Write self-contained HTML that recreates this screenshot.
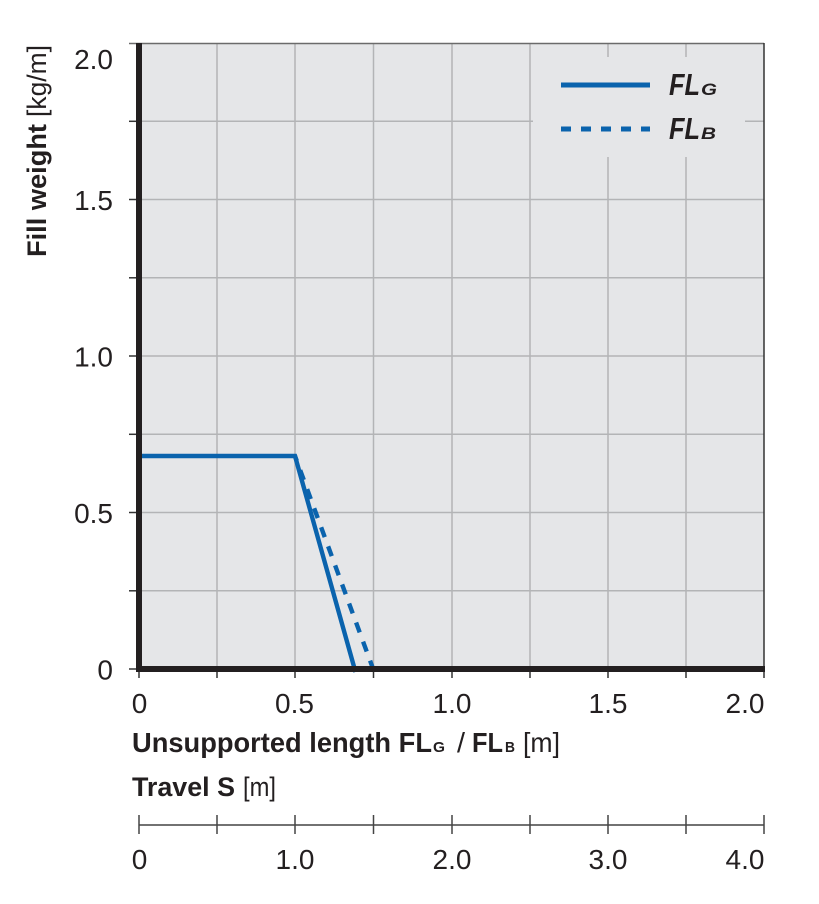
<!DOCTYPE html>
<html>
<head>
<meta charset="utf-8">
<style>
  html, body { margin:0; padding:0; background:#ffffff; }
  svg { display:block; }
  text { font-family:"Liberation Sans", Arial, sans-serif; fill:#231f20; }
</style>
</head>
<body>
<svg width="819" height="904" viewBox="0 0 819 904" xmlns="http://www.w3.org/2000/svg">
  <rect x="0" y="0" width="819" height="904" fill="#ffffff"/>
  <!-- plot background -->
  <rect x="139" y="43" width="625" height="626" fill="#e5e6e8"/>

  <!-- grid -->
  <g stroke="#b3b4b6" stroke-width="1.5">
    <line x1="217" y1="43" x2="217" y2="669"/>
    <line x1="295" y1="43" x2="295" y2="669"/>
    <line x1="373.5" y1="43" x2="373.5" y2="669"/>
    <line x1="452" y1="43" x2="452" y2="669"/>
    <line x1="530" y1="43" x2="530" y2="669"/>
    <line x1="608" y1="43" x2="608" y2="669"/>
    <line x1="686" y1="43" x2="686" y2="669"/>
    <line x1="139" y1="121.3" x2="764" y2="121.3"/>
    <line x1="139" y1="199.5" x2="764" y2="199.5"/>
    <line x1="139" y1="277.8" x2="764" y2="277.8"/>
    <line x1="139" y1="356" x2="764" y2="356"/>
    <line x1="139" y1="434.3" x2="764" y2="434.3"/>
    <line x1="139" y1="512.5" x2="764" y2="512.5"/>
    <line x1="139" y1="590.8" x2="764" y2="590.8"/>
  </g>

  <!-- legend box (hides grid) -->
  <rect x="533" y="57" width="212" height="100" fill="#e5e6e8"/>

  <!-- curves -->
  <polyline points="142,456 295,456 355.5,672" fill="none" stroke="#0a63ad" stroke-width="4.4" stroke-linejoin="miter"/>
  <line x1="295" y1="456" x2="373.5" y2="670" stroke="#0a63ad" stroke-width="4.4" stroke-dasharray="10.5 9.8" stroke-dashoffset="5.3"/>

  <!-- borders -->
  <line x1="129" y1="43.5" x2="764" y2="43.5" stroke="#6b6b6b" stroke-width="1.5"/>
  <line x1="764" y1="43" x2="764" y2="672" stroke="#333333" stroke-width="1.5"/>

  <!-- y ticks -->
  <g stroke="#333333" stroke-width="1.5">
    <line x1="129" y1="121.3" x2="137" y2="121.3"/>
    <line x1="129" y1="199.5" x2="137" y2="199.5"/>
    <line x1="129" y1="277.8" x2="137" y2="277.8"/>
    <line x1="129" y1="356" x2="137" y2="356"/>
    <line x1="129" y1="434.3" x2="137" y2="434.3"/>
    <line x1="129" y1="512.5" x2="137" y2="512.5"/>
    <line x1="129" y1="590.8" x2="137" y2="590.8"/>
    <line x1="129" y1="669" x2="137" y2="669"/>
    <!-- x ticks -->
    <line x1="139" y1="671" x2="139" y2="678"/>
    <line x1="217" y1="671" x2="217" y2="678"/>
    <line x1="295" y1="671" x2="295" y2="678"/>
    <line x1="373.5" y1="671" x2="373.5" y2="678"/>
    <line x1="452" y1="671" x2="452" y2="678"/>
    <line x1="530" y1="671" x2="530" y2="678"/>
    <line x1="608" y1="671" x2="608" y2="678"/>
    <line x1="686" y1="671" x2="686" y2="678"/>
    <line x1="764" y1="671" x2="764" y2="678"/>
  </g>

  <!-- thick axes -->
  <rect x="136" y="43" width="6" height="629" fill="#231f20"/>
  <rect x="136" y="666" width="629" height="6" fill="#231f20"/>

  <!-- y tick labels -->
  <g font-size="28" text-anchor="end" style="fill:#2e2e2e">
    <text x="113" y="69">2.0</text>
    <text x="113" y="210">1.5</text>
    <text x="113" y="366.5">1.0</text>
    <text x="113" y="523">0.5</text>
    <text x="113" y="679.5">0</text>
  </g>

  <!-- x tick labels -->
  <g font-size="28" text-anchor="middle" style="fill:#2e2e2e">
    <text x="139.5" y="713">0</text>
    <text x="294.5" y="713">0.5</text>
    <text x="452" y="713">1.0</text>
    <text x="608" y="713">1.5</text>
    <text x="745" y="713">2.0</text>
  </g>

  <!-- y axis title -->
  <g transform="translate(46,257) rotate(-90)">
    <text x="0" y="0" font-size="27" font-weight="bold" textLength="133" lengthAdjust="spacingAndGlyphs">Fill weight</text>
    <text x="140" y="0" font-size="27" textLength="72" lengthAdjust="spacingAndGlyphs">[kg/m]</text>
  </g>

  <!-- x axis title -->
  <text x="132" y="752" font-size="28" font-weight="bold" textLength="300" lengthAdjust="spacingAndGlyphs">Unsupported length FL</text>
  <text x="433" y="752" font-size="15" font-weight="bold" textLength="12" lengthAdjust="spacingAndGlyphs">G</text>
  <text x="457" y="752" font-size="28" textLength="8" lengthAdjust="spacingAndGlyphs">/</text>
  <text x="472" y="752" font-size="28" font-weight="bold" textLength="31" lengthAdjust="spacingAndGlyphs">FL</text>
  <text x="505" y="752" font-size="15" font-weight="bold" textLength="10" lengthAdjust="spacingAndGlyphs">B</text>
  <text x="523" y="752" font-size="28" textLength="37" lengthAdjust="spacingAndGlyphs">[m]</text>

  <!-- Travel S -->
  <text x="132" y="796" font-size="27" font-weight="bold" textLength="103" lengthAdjust="spacingAndGlyphs">Travel S</text>
  <text x="243" y="796" font-size="27" textLength="33" lengthAdjust="spacingAndGlyphs">[m]</text>

  <!-- travel axis -->
  <g stroke="#444444" stroke-width="1.5">
    <line x1="139" y1="825" x2="764" y2="825"/>
    <line x1="139" y1="815" x2="139" y2="834"/>
    <line x1="217" y1="815" x2="217" y2="834"/>
    <line x1="295" y1="815" x2="295" y2="834"/>
    <line x1="373.5" y1="815" x2="373.5" y2="834"/>
    <line x1="452" y1="815" x2="452" y2="834"/>
    <line x1="530" y1="815" x2="530" y2="834"/>
    <line x1="608" y1="815" x2="608" y2="834"/>
    <line x1="686" y1="815" x2="686" y2="834"/>
    <line x1="764" y1="815" x2="764" y2="834"/>
  </g>
  <g font-size="28" text-anchor="middle" style="fill:#2e2e2e">
    <text x="139.5" y="869">0</text>
    <text x="295" y="869">1.0</text>
    <text x="452" y="869">2.0</text>
    <text x="608" y="869">3.0</text>
    <text x="745" y="869">4.0</text>
  </g>

  <!-- legend -->
  <line x1="561" y1="85" x2="650" y2="85" stroke="#0a63ad" stroke-width="5"/>
  <line x1="561" y1="129" x2="650" y2="129" stroke="#0a63ad" stroke-width="5" stroke-dasharray="10 10"/>
  <text x="669" y="95" font-size="31" font-weight="bold" font-style="italic" textLength="31" lengthAdjust="spacingAndGlyphs">FL</text>
  <text x="701" y="95" font-size="17" font-weight="bold" font-style="italic" textLength="16" lengthAdjust="spacingAndGlyphs">G</text>
  <text x="669" y="139" font-size="31" font-weight="bold" font-style="italic" textLength="31" lengthAdjust="spacingAndGlyphs">FL</text>
  <text x="701" y="139" font-size="17" font-weight="bold" font-style="italic" textLength="15" lengthAdjust="spacingAndGlyphs">B</text>
</svg>
</body>
</html>
